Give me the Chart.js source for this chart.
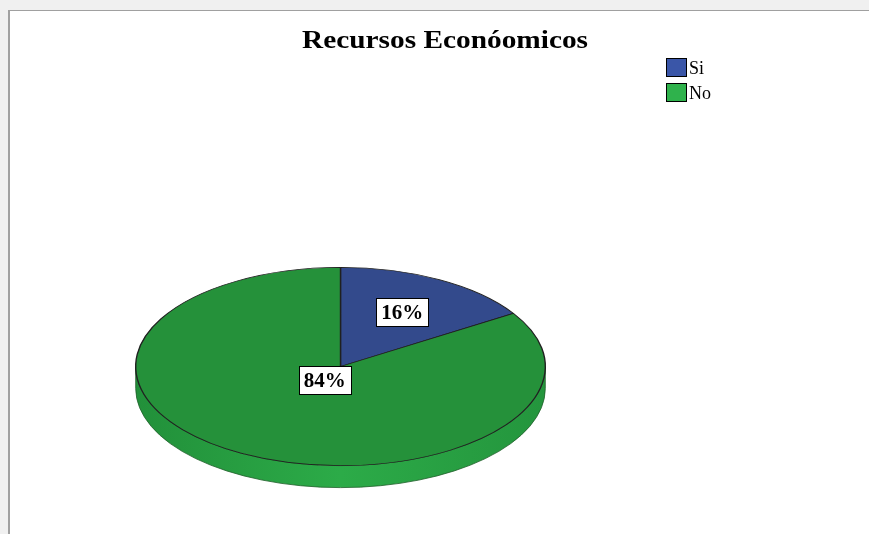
<!DOCTYPE html>
<html>
<head>
<meta charset="utf-8">
<script src="https://cdn.jsdelivr.net/npm/chart.js@4.4.1/dist/chart.umd.min.js"></script>
<style>
  html, body { margin: 0; padding: 0; background: #f0f0f0; }
  #frame {
    position: absolute; left: 8px; top: 10px; width: 861px; height: 524px;
    background: #ffffff; border-top: 1px solid #a0a0a0; border-left: 2px solid #a0a0a0;
  }
  #wrap { position: absolute; left: 0; top: 0; width: 869px; height: 534px; }
</style>
</head>
<body>
<div id="frame"></div>
<div id="wrap"><canvas id="myChart" width="869" height="534"></canvas></div>
<script>
const chartTitle = 'Recursos Econóomicos';
const categories = ['Si', 'No'];
const percentages = [16, 84];
const sliceColors = ['#334a8c', '#25913a'];
const labelRadius = [0.625, 0.16]; // where the % box sits along the slice

// 3d look: squash the pie and add a side band
const squash = 0.484;
const depth = 22;
const pieCenterY = 366.5;

function screenY(chart, y) {
    const cy = (chart.chartArea.top + chart.chartArea.bottom) / 2;
    return pieCenterY + (y - cy) * squash;
}

const pie3d = {
    id: 'pie3d',
    beforeDatasetsDraw(chart) {
        const ctx = chart.ctx;
        const meta = chart.getDatasetMeta(0);
        meta.data.forEach((arc) => {
            const p = arc.getProps(['x', 'startAngle', 'endAngle', 'outerRadius']);
            const a0 = Math.max(p.startAngle, 0);
            const a1 = Math.min(p.endAngle, Math.PI);
            if (a1 <= a0) return;
            const rx = p.outerRadius, ry = rx * squash;
            const grad = ctx.createLinearGradient(p.x - rx, 0, p.x + rx, 0);
            grad.addColorStop(0, '#22903a');
            grad.addColorStop(0.5, '#2cab48');
            grad.addColorStop(1, '#24953d');
            ctx.beginPath();
            ctx.ellipse(p.x, pieCenterY, rx, ry, 0, a0, a1);
            ctx.ellipse(p.x, pieCenterY + depth, rx, ry, 0, a1, a0, true);
            ctx.closePath();
            ctx.fillStyle = grad;
            ctx.fill();
            ctx.strokeStyle = '#1f5e2a';
            ctx.lineWidth = 0.8;
            ctx.stroke();
        });
        const cy = (chart.chartArea.top + chart.chartArea.bottom) / 2;
        ctx.save();
        ctx.translate(0, pieCenterY);
        ctx.scale(1, squash);
        ctx.translate(0, -cy);
    },
    afterDatasetsDraw(chart) {
        const ctx = chart.ctx;
        ctx.restore();

        // percentage boxes
        const meta = chart.getDatasetMeta(0);
        ctx.font = 'bold 21px "Liberation Serif"';
        ctx.textAlign = 'center';
        ctx.textBaseline = 'middle';
        meta.data.forEach((arc, i) => {
            const p = arc.getProps(['x', 'y', 'startAngle', 'endAngle', 'outerRadius']);
            const mid = (p.startAngle + p.endAngle) / 2;
            const d = p.outerRadius * labelRadius[i];
            const lx = p.x + Math.cos(mid) * d;
            const ly = screenY(chart, p.y + Math.sin(mid) * d);
            const txt = percentages[i] + '%';
            const w = ctx.measureText(txt).width + 10;
            const h = 28;
            ctx.fillStyle = '#ffffff';
            ctx.fillRect(Math.round(lx - w / 2), Math.round(ly - h / 2), Math.round(w), h);
            ctx.strokeStyle = '#000000';
            ctx.lineWidth = 1;
            ctx.strokeRect(Math.round(lx - w / 2) + 0.5, Math.round(ly - h / 2) + 0.5, Math.round(w), h);
            ctx.fillStyle = '#000000';
            ctx.fillText(txt, lx, ly + 1);
        });

        // title, stretched to the width it has in the original
        ctx.font = 'bold 26px "Liberation Serif"';
        ctx.textAlign = 'center';
        ctx.textBaseline = 'alphabetic';
        const tw = ctx.measureText(chartTitle).width;
        ctx.save();
        ctx.translate(445, 48);
        ctx.scale(286 / tw, 1);
        ctx.fillText(chartTitle, 0, 0);
        ctx.restore();

        // legend
        ctx.font = '18px "Liberation Serif"';
        ctx.textAlign = 'left';
        categories.forEach((c, i) => {
            const y = 58 + i * 25;
            ctx.fillStyle = i === 0 ? '#3a56a8' : '#2fb24c';
            ctx.fillRect(666, y, 20, 18);
            ctx.strokeStyle = '#000000';
            ctx.lineWidth = 1;
            ctx.strokeRect(666.5, y + 0.5, 20, 18);
            ctx.fillStyle = '#000000';
            ctx.fillText(c, 689, y + 16);
        });
    }
};

const ctx = document.getElementById('myChart');

const config = {
    type: 'pie',
    data: {
        labels: categories,
        datasets: [{
            data: percentages,
            backgroundColor: sliceColors,
            borderColor: '#202020',
            borderWidth: 1.4
        }]
    },
    options: {
        responsive: false,
        animation: false,
        events: [],
        layout: { padding: { left: 135, right: 323, top: 40, bottom: 40 } },
        plugins: {
            legend: { display: false },
            title: { display: false },
            tooltip: { enabled: false }
        }
    },
    plugins: [pie3d]
};

const chart = new Chart(ctx, config);
</script>
</body>
</html>
